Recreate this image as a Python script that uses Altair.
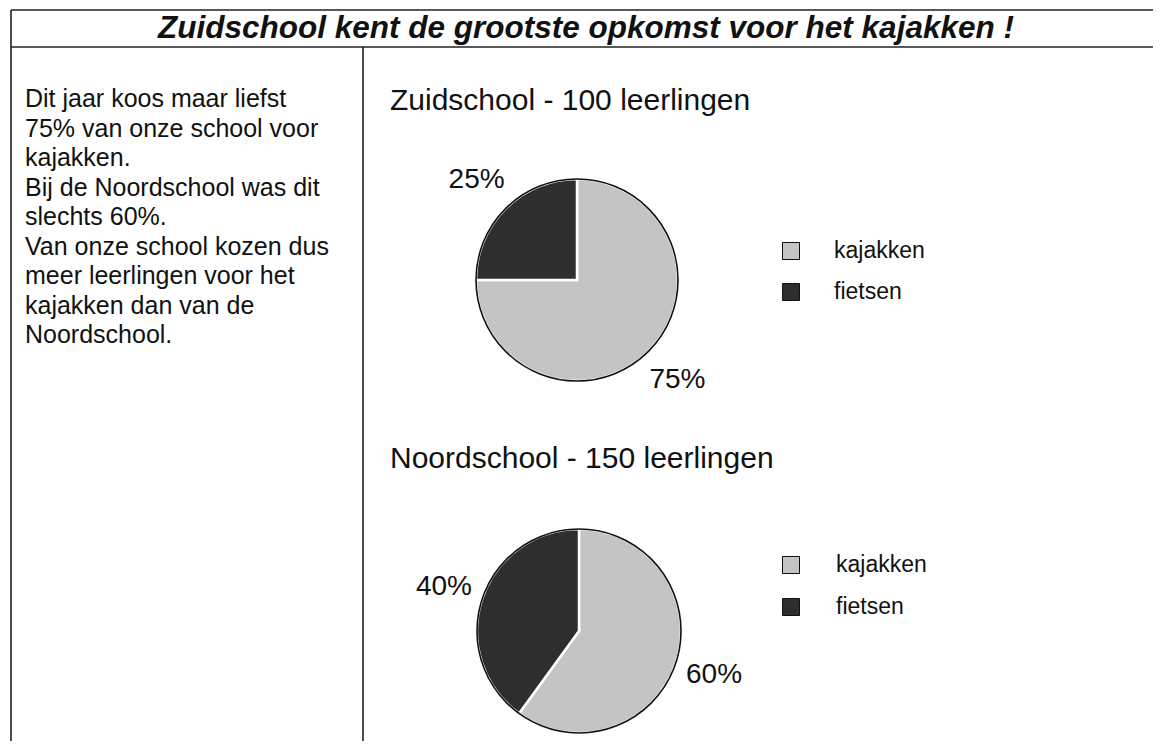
import altair as alt
import pandas as pd

# ---- data ----
title_text = "Zuidschool kent de grootste opkomst voor het kajakken !"
intro_lines = [
    "Dit jaar koos maar liefst",
    "75% van onze school voor",
    "kajakken.",
    "Bij de Noordschool was dit",
    "slechts 60%.",
    "Van onze school kozen dus",
    "meer leerlingen voor het",
    "kajakken dan van de",
    "Noordschool.",
]
categories = ["kajakken", "fietsen"]
zuid_values = [75, 25]
noord_values = [60, 40]
zuid_title = "Zuidschool - 100 leerlingen"
noord_title = "Noordschool - 150 leerlingen"
cat_colors = ["#c4c4c4", "#2e2e2e"]

FONT = "Liberation Sans"
W, H = 1145, 733

color_scale = alt.Scale(domain=categories, range=cat_colors)
one = pd.DataFrame({"k": [0]})


def pie_df(values):
    return pd.DataFrame({
        "cat": categories,
        "value": values,
        "rank": list(range(len(categories))),
        "label": [f"{v}%" for v in values],
    })


def rule(x1, y1, x2, y2):
    return alt.Chart(one).mark_rule(color="#222", strokeWidth=1.6).encode(
        x=alt.value(x1), y=alt.value(y1), x2=alt.value(x2), y2=alt.value(y2)
    )


def text(s, x, y, size, **kw):
    return alt.Chart(one).mark_text(
        text=s, fontSize=size, font=FONT, color="#111", **kw
    ).encode(x=alt.value(x), y=alt.value(y))


def pie(values, cx, cy, r, label_r):
    df = pie_df(values)
    base = alt.Chart(df).encode(
        theta=alt.Theta("value:Q", stack=True),
        order=alt.Order("rank:Q"),
        x=alt.value(cx),
        y=alt.value(cy),
    )
    slices = base.mark_arc(radius=r, stroke="white", strokeWidth=2.5).encode(
        color=alt.Color("cat:N", scale=color_scale, legend=None)
    )
    outline = alt.Chart(one).mark_arc(
        radius=r, theta=0, theta2=6.2832, fillOpacity=0, stroke="#111", strokeWidth=1.6
    ).encode(x=alt.value(cx), y=alt.value(cy))
    labels = base.mark_text(
        radius=label_r, fontSize=28, font=FONT, color="#111", baseline="middle"
    ).encode(text="label:N")
    return [slices, outline, labels]


def legend(x_sq, x_txt, y1, y2):
    df = pd.DataFrame({"cat": categories})
    y = alt.Y(
        "cat:N",
        scale=alt.Scale(type="point", domain=categories, range=[y1, y2], padding=0),
        axis=None,
    )
    sq = alt.Chart(df).mark_square(
        size=290, stroke="#111", strokeWidth=1, opacity=1
    ).encode(
        x=alt.value(x_sq), y=y,
        color=alt.Color("cat:N", scale=color_scale, legend=None),
    )
    tx = alt.Chart(df).mark_text(
        align="left", baseline="middle", fontSize=23, font=FONT, color="#111"
    ).encode(x=alt.value(x_txt), y=y, text="cat:N")
    return [sq, tx]


layers = [
    rule(3, 2, W, 2),
    rule(3, 39, W, 39),
    rule(3, 2, 3, H),
    rule(355, 39, 355, H),
    text(title_text, 578, 30, 31.5, align="center", baseline="alphabetic",
         fontWeight="bold", fontStyle="italic"),
    text(intro_lines, 17, 99, 25, align="left", baseline="alphabetic", lineHeight=29.5),
    text(zuid_title, 382, 102, 30, align="left", baseline="alphabetic"),
    text(noord_title, 382, 460, 30, align="left", baseline="alphabetic"),
]
layers += pie(zuid_values, 569, 272, 101, 142)
layers += pie(noord_values, 571, 623, 102, 142)
layers += legend(783, 826, 243, 284)
layers += legend(783, 828, 557, 599)

chart = alt.layer(*layers).resolve_scale(y="independent").properties(
    width=W,
    height=H,
    autosize=alt.AutoSizeParams(type="none"),
    padding=0,
    background="white",
).configure_view(strokeWidth=0)

chart.save("out.html", embed_options={"renderer": "svg", "actions": False})
